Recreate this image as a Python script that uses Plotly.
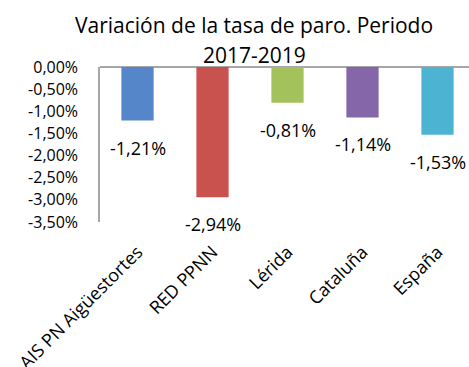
import plotly.graph_objects as go

# Categories and their change in unemployment rate (percentage points)
categories = ["AIS PN Aigüestortes", "RED PPNN", "Lérida", "Cataluña", "España"]
values = [-1.21, -2.94, -0.81, -1.14, -1.53]
colors = ["#5586C9", "#C9524F", "#A3C25B", "#8566A8", "#4DB3D2"]
tick_vals = [0, -0.5, -1.0, -1.5, -2.0, -2.5, -3.0, -3.5]
title_lines = ["Variación de la tasa de paro. Periodo", "2017-2019"]


def pct(v):
    return f"{v:.2f}".replace(".", ",") + "%"


FONT = "Open Sans"
idx = list(range(len(categories)))

fig = go.Figure(
    go.Bar(
        x=idx,
        y=values,
        marker=dict(color=colors, line=dict(width=0)),
        width=0.43,
        hoverinfo="skip",
    )
)

# Value labels sitting below each bar's end
for i, v in zip(idx, values):
    fig.add_annotation(
        x=i, y=v, text=pct(v), showarrow=False,
        yshift=-27, font=dict(family=FONT, size=18, color="#000000"),
    )

# Two-line chart title
for line, yc in zip(title_lines, [25, 55]):
    fig.add_annotation(
        text=line, showarrow=False,
        xref="paper", yref="paper",
        x=(254 - 100) / 369, y=(367 - 145 - yc) / (367 - 145 - 67),
        xanchor="center", yanchor="middle",
        font=dict(family=FONT, size=21, color="#000000"),
    )

fig.update_layout(
    width=469,
    height=367,
    margin=dict(l=100, r=0, t=67, b=145, autoexpand=False),
    paper_bgcolor="white",
    plot_bgcolor="white",
    showlegend=False,
    xaxis=dict(
        range=[-0.5, 4.42],
        tickmode="array",
        tickvals=idx,
        ticktext=categories,
        tickangle=-45,
        ticks="",
        showgrid=False,
        showline=False,
        zeroline=False,
        automargin=False,
        ticklabelstandoff=15,
        tickfont=dict(family=FONT, size=18, color="#000000"),
    ),
    yaxis=dict(
        range=[-3.5, 0],
        tickmode="array",
        tickvals=tick_vals,
        ticktext=[pct(t) for t in tick_vals],
        ticks="",
        showgrid=False,
        showline=True,
        linecolor="#A6A6A6",
        linewidth=1.5,
        zeroline=True,
        zerolinecolor="#A6A6A6",
        zerolinewidth=1.5,
        automargin=False,
        ticklabelstandoff=17,
        tickfont=dict(family=FONT, size=16, color="#000000"),
    ),
)

fig.write_html("out.html")
